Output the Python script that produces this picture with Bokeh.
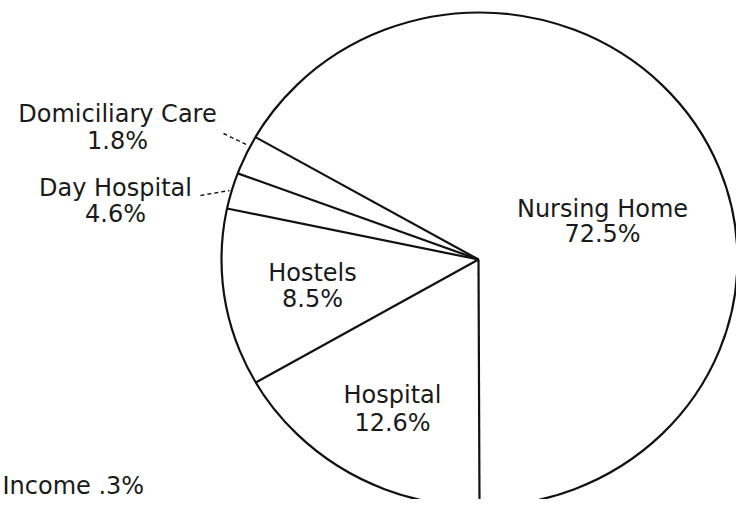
import numpy as np
from bokeh.plotting import figure
from bokeh.models import Range1d, ColumnDataSource
from bokeh.core.properties import value
from bokeh.embed import file_html
from bokeh.resources import INLINE

# Data (wedge sizes as drawn in the picture, labels as printed)
categories = ["Nursing Home", "Domiciliary Care", "Day Hospital", "Hostels", "Hospital"]
drawn_share = [66.75, 2.58, 2.36, 11.61, 16.70]   # percent of the circle, as drawn
printed_pct = ["72.5%", "1.8%", "4.6%", "8.5%", "12.6%"]
income_label = "Income  .3%"

# Layout (screen-pixel coordinates of the reference)
cx, cy = 479, 259
rx, ry = 258, 247
start_deg = -90.0

p = figure(width=736, height=499, output_backend="svg", toolbar_location=None,
           x_range=Range1d(0, 736), y_range=Range1d(499, 0), min_border=0)
p.axis.visible = False
p.grid.visible = False
p.outline_line_color = None
p.background_fill_color = "white"

# ellipse outline
p.ellipse(x=[cx], y=[cy], width=[2 * rx], height=[2 * ry], fill_color=None,
          line_color="#111111", line_width=2.2)

# radial boundaries from cumulative shares
cum = np.concatenate([[0.0], np.cumsum(drawn_share)])
bounds = start_deg + cum[:-1] * 3.6
t = np.radians(bounds)
x1 = cx + rx * np.cos(t)
y1 = cy - ry * np.sin(t)
p.segment(x0=[cx - 1] * len(t), y0=[cy] * len(t), x1=x1, y1=y1,
          line_color="#111111", line_width=2.2)

font = value("DejaVu Sans")
fs = "24px"

name_pos = {
    "Nursing Home": (602, 208, 233),
    "Domiciliary Care": (117, 113, 140),
    "Day Hospital": (115, 187, 213),
    "Hostels": (312, 272, 298),
    "Hospital": (392, 394, 422),
}
xs, ys, txt = [], [], []
for c, pc in zip(categories, printed_pct):
    x, yn, yp = name_pos[c]
    xs += [x, x]
    ys += [yn, yp]
    txt += [c, pc]
src = ColumnDataSource(dict(x=xs, y=ys, text=txt))
p.text(x="x", y="y", text="text", source=src, text_font=font, text_font_size=fs,
       text_align="center", text_baseline="middle", text_color="#1a1a1a")

p.text(x=[2], y=[485], text=[income_label], text_font=font, text_font_size=fs,
       text_align="left", text_baseline="middle", text_color="#1a1a1a")

# dashed leader lines
p.segment(x0=[223, 200], y0=[133, 195], x1=[248, 229], y1=[145, 190],
          line_color="#111111", line_width=1.4, line_dash="4 3")

open("out.html", "w").write(file_html(p, INLINE))
